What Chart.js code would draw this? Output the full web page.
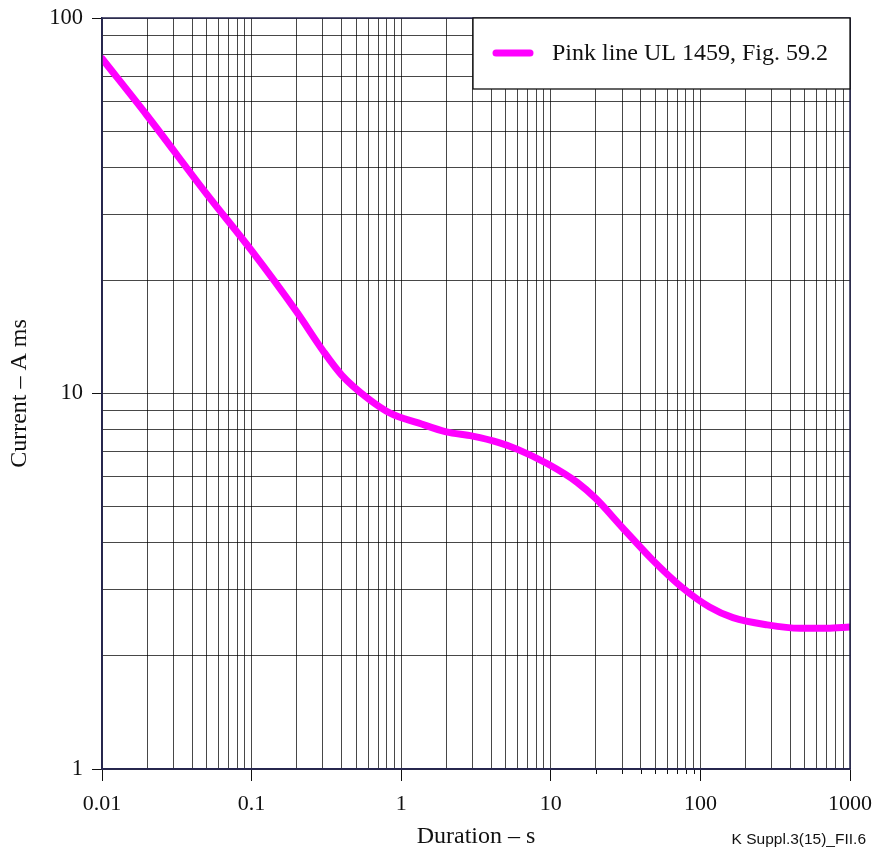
<!DOCTYPE html>
<html>
<head>
<meta charset="utf-8">
<script src="https://cdn.jsdelivr.net/npm/chart.js@4/dist/chart.umd.min.js"></script>
<style>
  html, body { margin: 0; padding: 0; background: #ffffff; }
  #wrap { width: 875px; height: 852px; }
</style>
</head>
<body>
<div id="wrap"><canvas id="c" width="875" height="852"></canvas></div>
<script>
// Duration (s) and current (A) along the UL 1459 curve
const durations = [0.01, 0.02, 0.05, 0.1, 0.2, 0.3, 0.4, 0.6, 0.85, 1.3, 2, 3, 4.5, 6, 9.5, 15, 20, 30, 48, 75, 115, 165, 280, 460, 700, 1000];
const currents  = [78, 55, 34, 24, 16.5, 13.0, 11.2, 9.7, 8.85, 8.35, 7.9, 7.7, 7.4, 7.1, 6.5, 5.8, 5.25, 4.4, 3.6, 3.05, 2.7, 2.53, 2.42, 2.37, 2.37, 2.39];

const seriesLabel = 'Pink line UL 1459, Fig. 59.2';
const xTitle = 'Duration – s';
const yTitle = 'Current – A ms';
const footnote = 'K Suppl.3(15)_FII.6';

const xTickLabels = ['0.01', '0.1', '1', '10', '100', '1000'];
const yTickLabels = ['1', '10', '100'];

// short marks under the axis for 20 … 90 s
const xSubTicks = [20, 30, 40, 50, 60, 70, 80, 90];

const xMin = 0.01, xMax = 1000;
const yMin = 1, yMax = 100;

const serif = '"Liberation Serif", "Times New Roman", serif';
const sans = '"Liberation Sans", Arial, sans-serif';
const pink = '#ff00ff';
const gridColor = 'rgba(0,0,0,0.72)';
const frameColor = '#26264f';
const ink = '#111111';

// Every 1..9 multiple inside each decade
function decadeTicks(min, max) {
  const out = [];
  for (let p = Math.round(Math.log10(min)); p < Math.round(Math.log10(max)); p++) {
    for (let m = 1; m <= 9; m++) out.push(+(m * Math.pow(10, p)).toPrecision(6));
  }
  out.push(max);
  return out;
}
function isPow10(v) {
  const l = Math.log10(v);
  return Math.abs(l - Math.round(l)) < 1e-9;
}
function labelFor(v, list) {
  if (!isPow10(v)) return '';
  const s = list.find(t => Math.abs(parseFloat(t) - v) < 1e-9 * Math.max(1, v));
  return s === undefined ? '' : s;
}

// Frame around the plot, legend box, sub-ticks and the figure reference
const decorations = {
  id: 'decorations',
  afterDraw(chart) {
    const ctx = chart.ctx;
    const a = chart.chartArea;
    const xs = chart.scales.x;
    ctx.save();

    ctx.strokeStyle = ink;
    ctx.lineWidth = 1;
    ctx.beginPath();
    xSubTicks.forEach(v => {
      const px = Math.round(xs.getPixelForValue(v)) + 0.5;
      ctx.moveTo(px, a.bottom);
      ctx.lineTo(px, a.bottom + 5);
    });
    ctx.stroke();

    ctx.strokeStyle = frameColor;
    ctx.lineWidth = 1.5;
    ctx.strokeRect(a.left, a.top, a.right - a.left, a.bottom - a.top);

    // legend
    const bx = 473, by = a.top, bw = a.right - 473, bh = 71;
    ctx.fillStyle = '#ffffff';
    ctx.fillRect(bx, by, bw, bh);
    ctx.strokeStyle = ink;
    ctx.lineWidth = 1.3;
    ctx.strokeRect(bx, by, bw, bh);
    const ds = chart.data.datasets[0];
    ctx.strokeStyle = ds.borderColor;
    ctx.lineWidth = 7;
    ctx.lineCap = 'round';
    ctx.beginPath();
    ctx.moveTo(bx + 23, by + 35);
    ctx.lineTo(bx + 57, by + 35);
    ctx.stroke();
    ctx.fillStyle = ink;
    ctx.font = '24px ' + serif;
    ctx.textBaseline = 'middle';
    ctx.textAlign = 'left';
    ctx.fillText(ds.label, bx + 79, by + 36);

    // figure reference
    ctx.font = '15.5px ' + sans;
    ctx.textAlign = 'right';
    ctx.fillText(footnote, 866, 840);
    ctx.restore();
  }
};

new Chart(document.getElementById('c'), {
  type: 'line',
  data: {
    datasets: [{
      label: seriesLabel,
      data: durations.map((d, i) => ({ x: d, y: currents[i] })),
      borderColor: pink,
      backgroundColor: pink,
      borderWidth: 7,
      borderCapStyle: 'round',
      borderJoinStyle: 'round',
      pointRadius: 0,
      cubicInterpolationMode: 'monotone',
      fill: false
    }]
  },
  options: {
    responsive: false,
    animation: false,
    layout: { padding: { left: 0, right: 25, top: 18, bottom: 0 } },
    plugins: { legend: { display: false }, tooltip: { enabled: false } },
    scales: {
      x: {
        type: 'logarithmic',
        min: xMin, max: xMax,
        afterBuildTicks: s => { s.ticks = decadeTicks(xMin, xMax).map(v => ({ value: v })); },
        afterFit: s => { s.height = 83; s.paddingLeft = 0; s.paddingRight = 0; },
        grid: {
          color: gridColor,
          lineWidth: 1,
          drawTicks: true,
          tickLength: 12,
          tickColor: c => (c.tick && isPow10(c.tick.value)) ? ink : 'rgba(0,0,0,0)'
        },
        border: { display: true, color: frameColor, width: 1.5 },
        ticks: {
          autoSkip: false,
          maxRotation: 0,
          padding: 10,
          color: ink,
          font: { family: serif, size: 22 },
          callback: v => labelFor(v, xTickLabels)
        },
        title: {
          display: true,
          text: xTitle,
          color: ink,
          font: { family: serif, size: 24 },
          padding: { top: 0, bottom: 1 }
        }
      },
      y: {
        type: 'logarithmic',
        min: yMin, max: yMax,
        afterBuildTicks: s => { s.ticks = decadeTicks(yMin, yMax).map(v => ({ value: v })); },
        afterFit: s => { s.width = 102; s.paddingTop = 0; s.paddingBottom = 0; },
        grid: {
          color: gridColor,
          lineWidth: 1,
          drawTicks: true,
          tickLength: 10,
          tickColor: c => (c.tick && isPow10(c.tick.value)) ? ink : 'rgba(0,0,0,0)'
        },
        border: { display: true, color: frameColor, width: 1.5 },
        ticks: {
          autoSkip: false,
          padding: 9,
          color: ink,
          font: { family: serif, size: 22.5 },
          callback: v => labelFor(v, yTickLabels)
        },
        title: {
          display: true,
          text: yTitle,
          color: ink,
          font: { family: serif, size: 24 },
          padding: { top: 5, bottom: 0 }
        }
      }
    }
  },
  plugins: [decorations]
});
</script>
</body>
</html>
